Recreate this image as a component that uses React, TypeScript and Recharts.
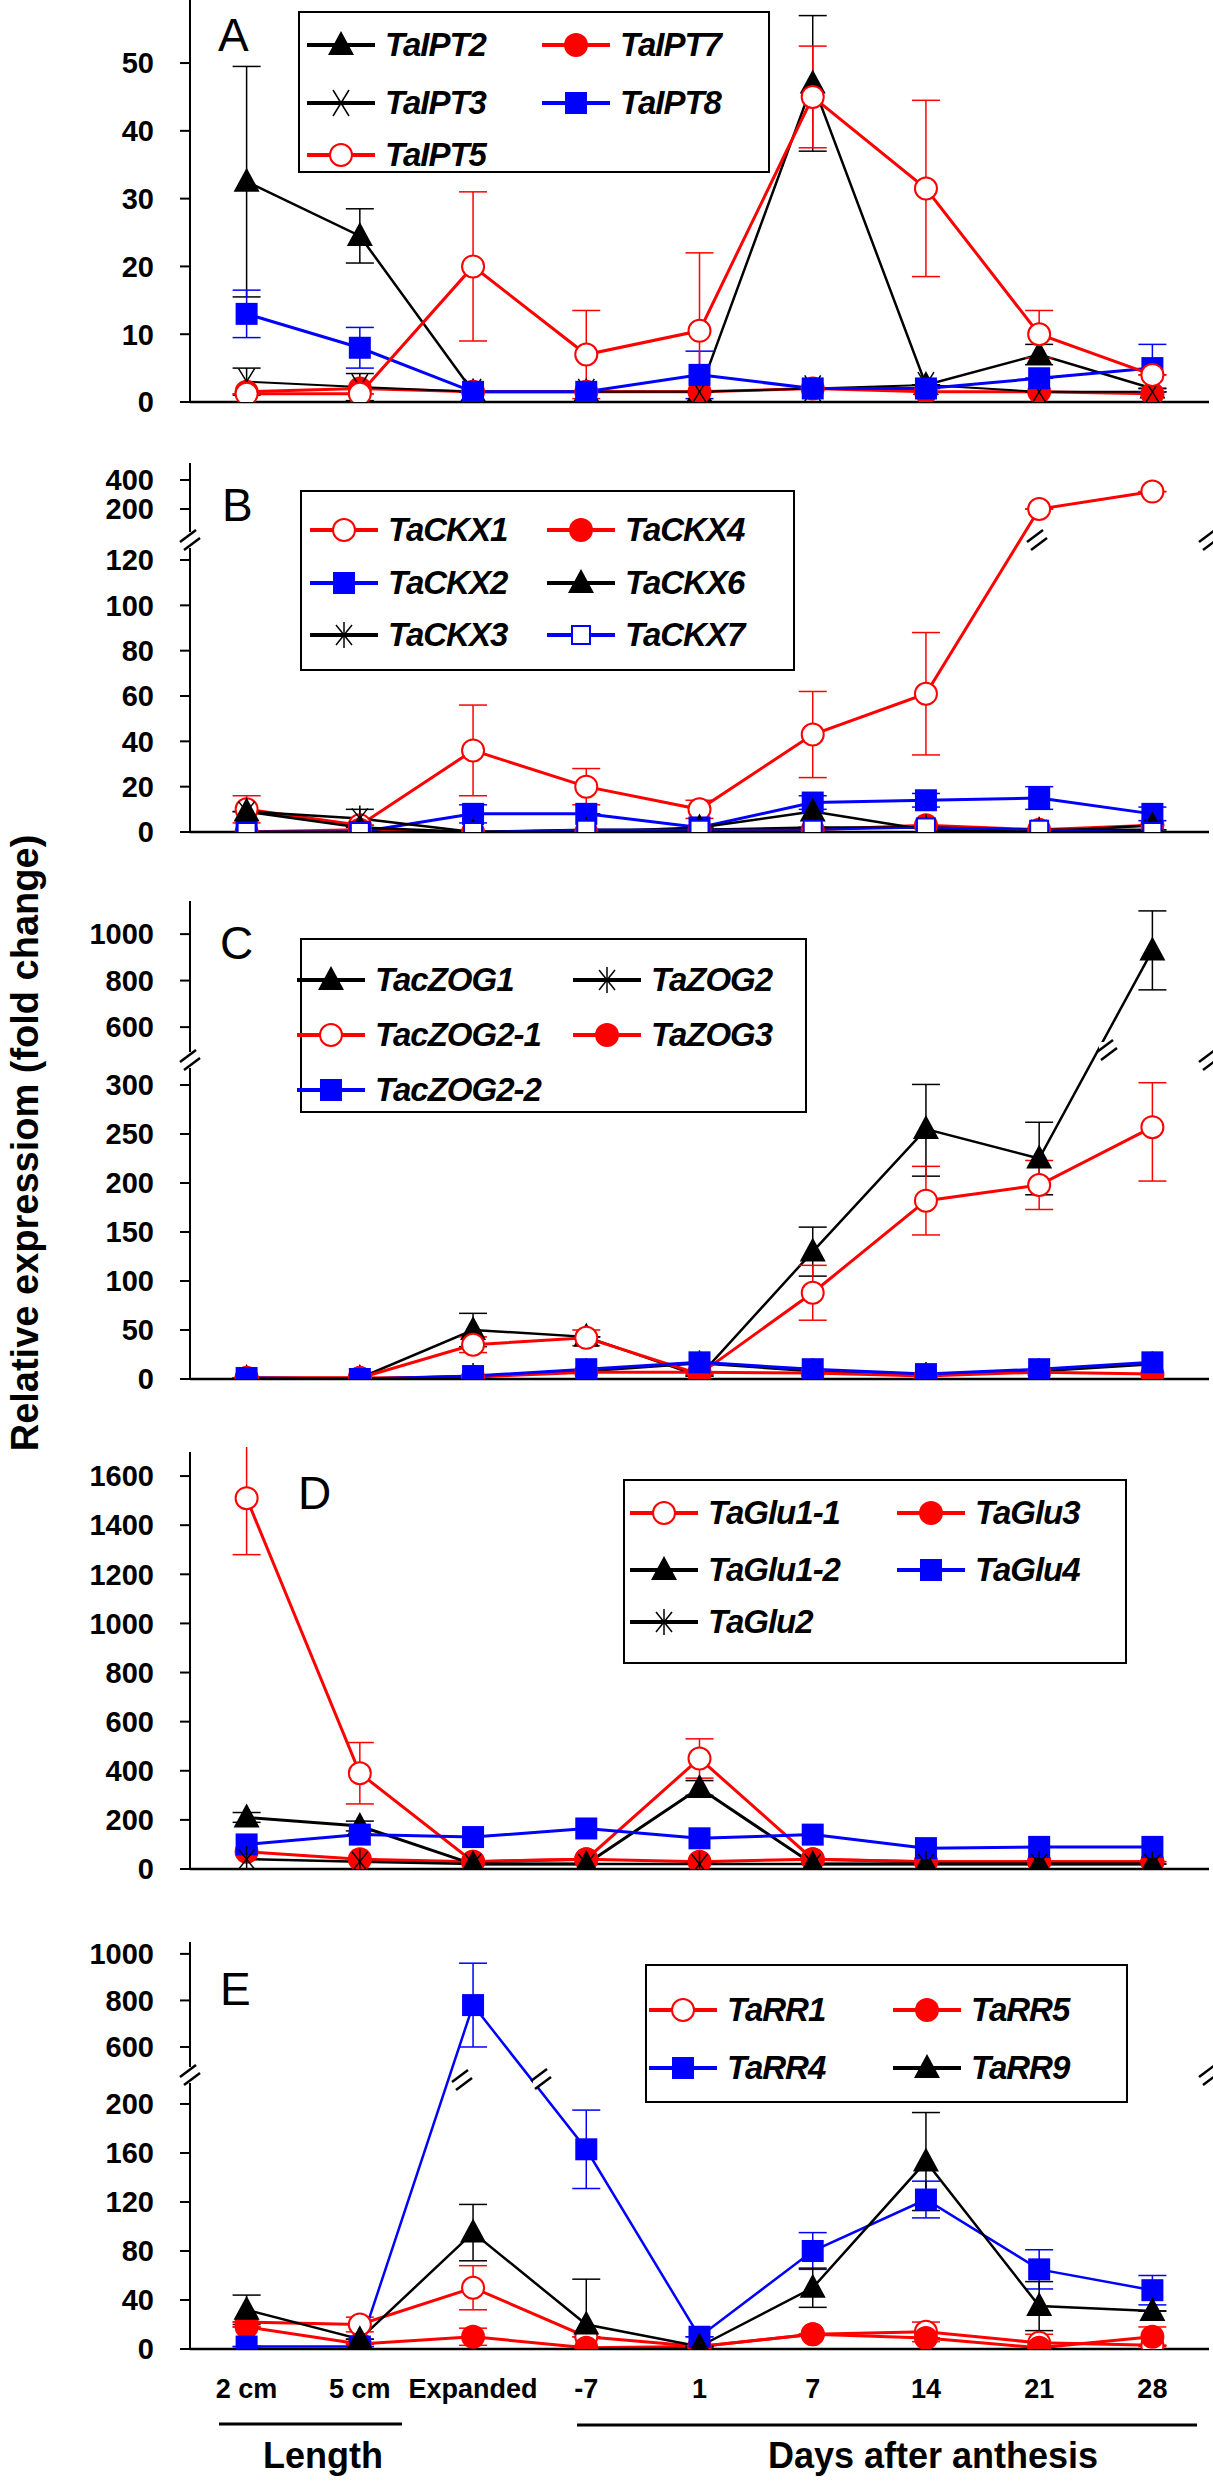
import React from "react";
import { LineChart, Line, XAxis, YAxis, ErrorBar } from "recharts";

const STAGES = ["2 cm", "5 cm", "Expanded", "-7", "1", "7", "14", "21", "28"];

// Panel A – TaIPT
const IPT2 = [32.5, 24.5, 1.5, 1.5, 1.5, 47, 2.5, 7, 2];
const IPT2_ERR = [17, 4, 0, 0, 0, 10, 0, 1.5, 0];
const IPT3 = [3, 2.2, 1.5, 1.5, 1.5, 2, 2.5, 1.5, 1.5];
const IPT3_ERR = [2, 2, 0, 0, 0, 0, 0, 0, 0];
const IPT5 = [1.2, 1.2, 20, 7, 10.5, 45, 31.5, 10, 4];
const IPT5_ERR = [0, 0, 11, 6.5, 11.5, 7.5, 13, 3.5, 0];
const IPT7 = [1.5, 2, 1.5, 1.5, 1.5, 2, 1.5, 1.5, 1.2];
const IPT8 = [13, 8, 1.5, 1.5, 4, 2, 2, 3.5, 5];
const IPT8_ERR = [3.5, 3, 0, 0, 3.5, 0, 0, 0, 3.5];

// Panel B – TaCKX
const CKX1 = [10, 3, 36, 20, 10, 43, 61, 200, 320];
const CKX1_ERR = [6, 0, 20, 8, 4, 19, 27, 0, 0];
const CKX2 = [0, 0, 8, 8, 2, 13, 14, 15, 8];
const CKX2_ERR = [0, 0, 4, 0, 0, 3, 3, 5, 3];
const CKX3 = [9, 6, 0, 1, 1, 2, 2, 1, 1];
const CKX3_ERR = [0, 4, 0, 0, 0, 0, 0, 0, 0];
const CKX4 = [0, 1, 0, 0, 1, 1, 3, 1, 3];
const CKX6 = [9, 2, 0, 0, 2, 9, 1, 0, 3];
const CKX7 = [0, 0, 0, 1, 1, 1, 2, 1, 0];

// Panel C – TaZOG
const ZOG1 = [1, 1, 50, 43, 3, 130, 255, 225, 930];
const ZOG1_ERR = [0, 0, 17, 0, 0, 25, 48, 37, 170];
const ZOG21 = [1, 1, 35, 42, 5, 88, 182, 198, 257];
const ZOG21_ERR = [0, 0, 8, 8, 0, 28, 35, 25, 55];
const ZOG22 = [1, 0, 3, 10, 17, 10, 5, 10, 17];
const ZOG2 = [0, 0, 3, 8, 16, 8, 4, 8, 15];
const ZOG3 = [1, 1, 2, 7, 7, 6, 3, 7, 5];

// Panel D – TaGlu
const GLU11 = [1510, 390, 30, 40, 450, 40, 30, 30, 30];
const GLU11_ERR = [230, 125, 0, 0, 80, 0, 0, 0, 0];
const GLU12 = [210, 175, 20, 20, 330, 20, 20, 20, 20];
const GLU12_ERR = [20, 20, 0, 0, 30, 0, 0, 0, 0];
const GLU2 = [40, 30, 20, 20, 20, 20, 20, 20, 20];
const GLU3 = [70, 40, 30, 40, 30, 40, 30, 30, 30];
const GLU4 = [100, 140, 130, 165, 125, 140, 85, 90, 90];

// Panel E – TaRR
const RR1 = [22, 20, 50, 10, 2, 12, 14, 5, 3];
const RR1_ERR = [0, 6, 18, 0, 0, 0, 8, 7, 0];
const RR4 = [2, 2, 780, 163, 10, 80, 122, 65, 48];
const RR4_ERR = [0, 0, 180, 32, 0, 15, 15, 16, 12];
const RR5 = [18, 4, 10, 1, 2, 12, 9, 1, 10];
const RR5_ERR = [0, 0, 7, 0, 0, 0, 0, 0, 8];
const RR9 = [32, 8, 95, 20, 2, 50, 153, 35, 31];
const RR9_ERR = [12, 0, 23, 37, 0, 16, 40, 20, 0];

const TICKS_A = [0, 10, 20, 30, 40, 50];
const TICKS_B = [0, 20, 40, 60, 80, 100, 120, 200, 400];
const TICKS_C = [0, 50, 100, 150, 200, 250, 300, 600, 800, 1000];
const TICKS_D = [0, 200, 400, 600, 800, 1000, 1200, 1400, 1600];
const TICKS_E = [0, 40, 80, 120, 160, 200, 600, 800, 1000];

const RED = "#ff0000";
const BLUE = "#0000ff";
const BLACK = "#000000";
const FONT = "'Liberation Sans', Arial, sans-serif";

// broken-axis transforms (value -> axis units)
const idT = (v: number) => v;
const tB = (v: number) =>
  v <= 120 ? v : v <= 200 ? 120 + ((v - 120) / 80) * 22.5 : 142.5 + (v - 200) * 0.064;
const tC = (v: number) =>
  v <= 300 ? v : v <= 600 ? 300 + (v - 300) * 0.197 : 359.2 + (v - 600) * 0.237;
const tE = (v: number) =>
  v <= 200 ? v : v <= 600 ? 200 + (v - 200) * 0.1163 : 246.5 + (v - 600) * 0.19;

type Shape = "tri" | "dot" | "ring" | "sq" | "osq" | "x" | "star";
type Series = { name: string; color: string; shape: Shape; values: number[]; err?: number[]; width: number };

function Marker({ shape, cx, cy, color }: { shape: Shape; cx: number; cy: number; color: string }) {
  const s = 22;
  switch (shape) {
    case "tri":
      return <polygon points={`${cx},${cy - 14} ${cx - 13},${cy + 10} ${cx + 13},${cy + 10}`} fill={BLACK} />;
    case "dot":
      return <circle cx={cx} cy={cy} r={12} fill={color} />;
    case "ring":
      return <circle cx={cx} cy={cy} r={11} fill="#fff" stroke={color} strokeWidth={2} />;
    case "sq":
      return <rect x={cx - s / 2} y={cy - s / 2} width={s} height={s} fill={color} />;
    case "osq":
      return <rect x={cx - 9} y={cy - 9} width={18} height={18} fill="#fff" stroke={color} strokeWidth={2} />;
    case "x":
      return (
        <g stroke={BLACK} strokeWidth={1.5}>
          <line x1={cx - 8} y1={cy - 13} x2={cx + 8} y2={cy + 13} />
          <line x1={cx + 8} y1={cy - 13} x2={cx - 8} y2={cy + 13} />
        </g>
      );
    default:
      return (
        <g stroke={BLACK} strokeWidth={1.5}>
          <line x1={cx} y1={cy - 13} x2={cx} y2={cy + 13} />
          <line x1={cx - 8} y1={cy - 10} x2={cx + 8} y2={cy + 10} />
          <line x1={cx + 8} y1={cy - 10} x2={cx - 8} y2={cy + 10} />
        </g>
      );
  }
}

type PanelProps = {
  letter: string;
  letterPos: [number, number];
  top: number;
  bottom: number;
  max: number;
  tf: (v: number) => number;
  ticks: number[];
  series: Series[];
  legend: { box: [number, number, number, number]; cols: [number, number]; rows: number[] };
  labels?: boolean;
};

function Panel({ letter, letterPos, top, bottom, max, tf, ticks, series, legend, labels }: PanelProps) {
  const data = STAGES.map((_, i) => {
    const row: Record<string, any> = { x: i };
    series.forEach((s) => {
      const v = s.values[i];
      row[s.name] = tf(v);
      const e = s.err ? s.err[i] : 0;
      row[s.name + "_e"] = [tf(v) - tf(Math.max(0, v - e)), tf(v + e) - tf(v)];
    });
    return row;
  });
  const tickMap = new Map(ticks.map((t) => [tf(t), t]));
  const xh = 12;
  const lh = labels ? 60 : 0;
  const mb = labels ? 0 : 20;
  const height = 5 + (bottom - top) + xh + lh + mb;
  const tickStyle = { fontSize: 29, fontWeight: 700, fill: BLACK, fontFamily: FONT };
  const [bx, by, bw, bh] = legend.box;
  return (
    <>
      <div style={{ position: "absolute", left: 0, top: top - 5 }}>
        <LineChart width={1213} height={height} data={data} margin={{ top: 5, right: 4, left: 0, bottom: mb }}>
          <XAxis
            type="number"
            dataKey="x"
            domain={[-0.5, 8.5]}
            ticks={[-0.5, 0.5, 1.5, 2.5, 3.5, 4.5, 5.5, 6.5, 7.5, 8.5]}
            tick={false}
            tickSize={11}
            height={xh}
            stroke={BLACK}
            strokeWidth={2.5}
          />
          {labels && (
            <XAxis
              xAxisId="lab"
              type="number"
              dataKey="x"
              domain={[-0.5, 8.5]}
              ticks={[0, 1, 2, 3, 4, 5, 6, 7, 8]}
              tickFormatter={(v) => STAGES[v]}
              axisLine={false}
              tickLine={false}
              tickSize={0}
              tickMargin={18}
              height={lh}
              interval={0}
              tick={{ fontSize: 27, fontWeight: 700, fill: BLACK, fontFamily: FONT }}
            />
          )}
          <XAxis xAxisId="top" orientation="top" type="number" dataKey="x" domain={[-0.5, 8.5]} tick={false} tickLine={false} height={0} stroke={BLACK} strokeWidth={2} />
          <YAxis
            type="number"
            domain={[0, max]}
            ticks={ticks.map(tf)}
            tickFormatter={(v) => String(tickMap.get(v) ?? "")}
            width={190}
            tickSize={10}
            tickMargin={26}
            interval={0}
            tick={tickStyle}
            stroke={BLACK}
            strokeWidth={2}
            allowDataOverflow
          />
          <YAxis yAxisId="r" orientation="right" domain={[0, max]} tick={false} tickLine={false} width={0} stroke={BLACK} strokeWidth={2} />
          {series.map((s) => (
            <Line
              key={s.name}
              dataKey={s.name}
              stroke={s.color}
              strokeWidth={s.width}
              isAnimationActive={false}
              dot={(p: any) => (
                <g key={`${s.name}-${p.index}`}>
                  <Marker shape={s.shape} cx={p.cx} cy={p.cy} color={s.color} />
                </g>
              )}
              activeDot={false}
            >
              {s.err && <ErrorBar dataKey={s.name + "_e"} width={14} stroke={s.color} strokeWidth={1.5} direction="y" />}
            </Line>
          ))}
        </LineChart>
      </div>
      <div style={{ position: "absolute", left: letterPos[0], top: letterPos[1], fontFamily: FONT, fontSize: 46, lineHeight: "46px" }}>
        {letter}
      </div>
      <div style={{ position: "absolute", left: bx, top: by, width: bw, height: bh, border: "2px solid #000", background: "#fff", boxSizing: "border-box" }} />
      {series.map((s, k) => {
        const col = legend.cols[k % 2];
        const ry = legend.rows[Math.floor(k / 2)];
        return (
          <div key={s.name} style={{ position: "absolute", left: col - 50, top: ry - 20, height: 40, display: "flex", alignItems: "center" }}>
            <svg width={70} height={40}>
              <line x1={0} y1={20} x2={68} y2={20} stroke={s.color} strokeWidth={4} />
              <Marker shape={s.shape} cx={34} cy={20} color={s.color} />
            </svg>
            <span style={{ fontFamily: FONT, fontSize: 33, fontWeight: 700, fontStyle: "italic", marginLeft: 8, letterSpacing: -1 }}>{s.name}</span>
          </div>
        );
      })}
    </>
  );
}

function Brk({ x, y }: { x: number; y: number }) {
  return (
    <g stroke={BLACK} strokeWidth={2.5}>
      <rect x={x - 8} y={y - 8} width={16} height={16} fill="#fff" stroke="none" />
      <line x1={x - 10} y1={y + 2} x2={x + 6} y2={y - 10} />
      <line x1={x - 6} y1={y + 10} x2={x + 10} y2={y - 2} />
    </g>
  );
}

export default function App() {
  return (
    <div style={{ position: "absolute", left: 0, top: 0, width: 1213, height: 2481, background: "#fff", overflow: "hidden" }}>
      <Panel
        letter="A"
        letterPos={[218, 12]}
        top={0}
        bottom={402}
        max={59.3}
        tf={idT}
        ticks={TICKS_A}
        series={[
          { name: "TaIPT2", color: BLACK, shape: "tri", values: IPT2, err: IPT2_ERR, width: 2.5 },
          { name: "TaIPT7", color: RED, shape: "dot", values: IPT7, width: 3 },
          { name: "TaIPT3", color: BLACK, shape: "x", values: IPT3, err: IPT3_ERR, width: 2 },
          { name: "TaIPT8", color: BLUE, shape: "sq", values: IPT8, err: IPT8_ERR, width: 3 },
          { name: "TaIPT5", color: RED, shape: "ring", values: IPT5, err: IPT5_ERR, width: 3 },
        ]}
        legend={{ box: [298, 11, 472, 162], cols: [357, 592], rows: [45, 103, 155] }}
      />
      <Panel
        letter="B"
        letterPos={[222, 482]}
        top={463}
        bottom={832}
        max={162.8}
        tf={tB}
        ticks={TICKS_B}
        series={[
          { name: "TaCKX1", color: RED, shape: "ring", values: CKX1, err: CKX1_ERR, width: 3 },
          { name: "TaCKX4", color: RED, shape: "dot", values: CKX4, width: 3 },
          { name: "TaCKX2", color: BLUE, shape: "sq", values: CKX2, err: CKX2_ERR, width: 3 },
          { name: "TaCKX6", color: BLACK, shape: "tri", values: CKX6, width: 2.5 },
          { name: "TaCKX3", color: BLACK, shape: "star", values: CKX3, err: CKX3_ERR, width: 2.5 },
          { name: "TaCKX7", color: BLUE, shape: "osq", values: CKX7, width: 2 },
        ]}
        legend={{ box: [300, 490, 495, 181], cols: [360, 597], rows: [530, 583, 635] }}
      />
      <Panel
        letter="C"
        letterPos={[220, 920]}
        top={901}
        bottom={1379}
        max={487.8}
        tf={tC}
        ticks={TICKS_C}
        series={[
          { name: "TacZOG1", color: BLACK, shape: "tri", values: ZOG1, err: ZOG1_ERR, width: 2.5 },
          { name: "TaZOG2", color: BLACK, shape: "star", values: ZOG2, width: 2.5 },
          { name: "TacZOG2-1", color: RED, shape: "ring", values: ZOG21, err: ZOG21_ERR, width: 3 },
          { name: "TaZOG3", color: RED, shape: "dot", values: ZOG3, width: 3 },
          { name: "TacZOG2-2", color: BLUE, shape: "sq", values: ZOG22, width: 3 },
        ]}
        legend={{ box: [300, 938, 507, 175], cols: [347, 623], rows: [980, 1035, 1090] }}
      />
      <Panel
        letter="D"
        letterPos={[298, 1470]}
        top={1452}
        bottom={1869}
        max={1698}
        tf={idT}
        ticks={TICKS_D}
        series={[
          { name: "TaGlu1-1", color: RED, shape: "ring", values: GLU11, err: GLU11_ERR, width: 3 },
          { name: "TaGlu3", color: RED, shape: "dot", values: GLU3, width: 3 },
          { name: "TaGlu1-2", color: BLACK, shape: "tri", values: GLU12, err: GLU12_ERR, width: 3 },
          { name: "TaGlu4", color: BLUE, shape: "sq", values: GLU4, width: 3 },
          { name: "TaGlu2", color: BLACK, shape: "star", values: GLU2, width: 2.5 },
        ]}
        legend={{ box: [623, 1479, 504, 185], cols: [680, 947], rows: [1513, 1570, 1622] }}
      />
      <Panel
        letter="E"
        letterPos={[220, 1966]}
        top={1942}
        bottom={2349}
        max={332.2}
        tf={tE}
        ticks={TICKS_E}
        series={[
          { name: "TaRR1", color: RED, shape: "ring", values: RR1, err: RR1_ERR, width: 3 },
          { name: "TaRR5", color: RED, shape: "dot", values: RR5, err: RR5_ERR, width: 3 },
          { name: "TaRR4", color: BLUE, shape: "sq", values: RR4, err: RR4_ERR, width: 2.5 },
          { name: "TaRR9", color: BLACK, shape: "tri", values: RR9, err: RR9_ERR, width: 2.5 },
        ]}
        legend={{ box: [645, 1964, 483, 139], cols: [699, 943], rows: [2010, 2068] }}
        labels
      />
      <svg width={1213} height={2481} style={{ position: "absolute", left: 0, top: 0, pointerEvents: "none" }}>
        <Brk x={190} y={540} />
        <Brk x={1209} y={540} />
        <Brk x={1037} y={540} />
        <Brk x={190} y={1060} />
        <Brk x={1209} y={1060} />
        <Brk x={1107} y={1050} />
        <Brk x={190} y={2075} />
        <Brk x={1209} y={2075} />
        <Brk x={462} y={2080} />
        <Brk x={541} y={2079} />
        <line x1={219} y1={2424} x2={402} y2={2424} stroke={BLACK} strokeWidth={3} />
        <line x1={577} y1={2425} x2={1197} y2={2425} stroke={BLACK} strokeWidth={3} />
        <text x={323} y={2468} textAnchor="middle" fontFamily={FONT} fontWeight={700} fontSize={36}>Length</text>
        <text x={933} y={2468} textAnchor="middle" fontFamily={FONT} fontWeight={700} fontSize={36}>Days after anthesis</text>
        <text transform="translate(38,1143) rotate(-90)" textAnchor="middle" fontFamily={FONT} fontWeight={700} fontSize={38}>
          Relative expressiom (fold change)
        </text>
      </svg>
    </div>
  );
}
